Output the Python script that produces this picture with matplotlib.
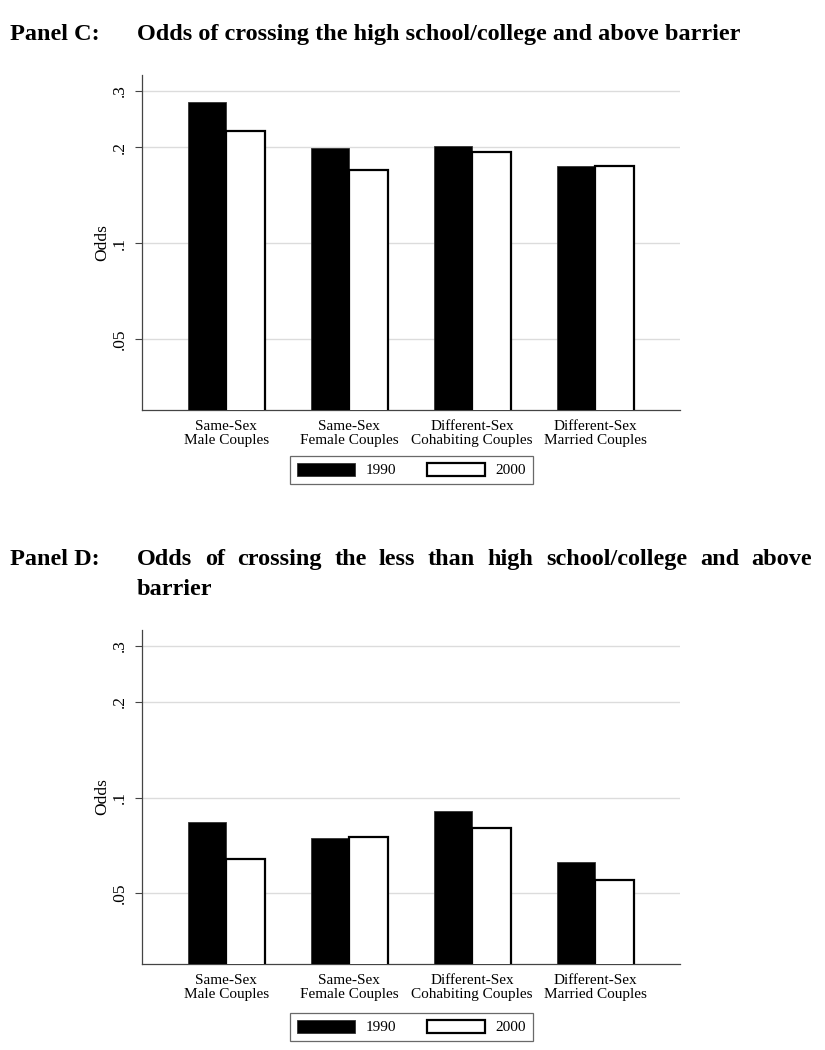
import matplotlib
matplotlib.use("Agg")
import matplotlib.pyplot as plt
import numpy as np

# ---- data ----
categories = ["Same-Sex\nMale Couples", "Same-Sex\nFemale Couples",
              "Different-Sex\nCohabiting Couples", "Different-Sex\nMarried Couples"]
years = ["1990", "2000"]
panel_c_1990 = [0.278, 0.199, 0.201, 0.175]
panel_c_2000 = [0.224, 0.170, 0.193, 0.174]
panel_d_1990 = [0.0841, 0.0749, 0.0908, 0.0630]
panel_d_2000 = [0.0642, 0.0752, 0.0801, 0.0550]
ytick_vals = [0.05, 0.1, 0.2, 0.3]
ytick_labels = [".05", ".1", ".2", ".3"]
title_c_label = "Panel C:"
title_c = "Odds of crossing the high school/college and above barrier"
title_d_label = "Panel D:"
title_d_line1 = "Odds of crossing the less than high school/college and above"
title_d_line2 = "barrier"

W, H = 825, 1050
fig = plt.figure(figsize=(W / 100, H / 100), dpi=100)
fig.patch.set_facecolor("white")

SERIF = ["Liberation Serif", "DejaVu Serif"]
plt.rcParams["font.family"] = SERIF


def px_axes(left, top, right, bottom):
    return [left / W, 1 - bottom / H, (right - left) / W, (bottom - top) / H]


def draw_panel(rect, v1990, v2000, legend_cy):
    ax = fig.add_axes(rect)
    x = np.arange(len(categories))
    bw = 0.313
    ax.set_yscale("log")
    ax.bar(x - bw / 2, v1990, width=bw, color="black", edgecolor="#333333",
           linewidth=0.6, zorder=3, label=years[0])
    ax.bar(x + bw / 2, v2000, width=bw, color="white", edgecolor="black",
           linewidth=1.6, zorder=3, label=years[1])
    ax.set_ylim(0.03, 0.3367)
    ax.set_xlim(-0.685, 3.69)
    ax.set_yticks(ytick_vals)
    ax.set_yticklabels(ytick_labels, rotation=90, va="center", fontsize=12.5)
    ax.yaxis.set_minor_locator(matplotlib.ticker.NullLocator())
    ax.yaxis.set_minor_formatter(matplotlib.ticker.NullFormatter())
    ax.tick_params(axis="y", length=5, width=0.8, color="#444444", pad=5)
    ax.set_xticks(x)
    ax.set_xticklabels(categories, fontsize=11, linespacing=1.12)
    ax.tick_params(axis="x", length=0, pad=7)
    ax.grid(axis="y", color="#dcdcdc", linewidth=1.0, zorder=0)
    ax.set_axisbelow(True)
    for s in ["top", "right"]:
        ax.spines[s].set_visible(False)
    for s in ["left", "bottom"]:
        ax.spines[s].set_color("#444444")
        ax.spines[s].set_linewidth(0.9)
    ax.set_ylabel("Odds", fontsize=12.5, labelpad=1)
    leg = ax.legend(loc="center", bbox_to_anchor=(411.5 / W, 1 - legend_cy / H),
                    bbox_transform=fig.transFigure, ncol=2, fontsize=11,
                    frameon=True, fancybox=False, handlelength=3.8,
                    handleheight=0.95, handletextpad=0.7, columnspacing=2.0,
                    borderpad=0.45, borderaxespad=0)
    leg.get_frame().set_edgecolor("#444444")
    leg.get_frame().set_linewidth(0.9)
    return ax


draw_panel(px_axes(142, 75, 680, 410), panel_c_1990, panel_c_2000, 470)
draw_panel(px_axes(142, 630, 680, 964), panel_d_1990, panel_d_2000, 1027)

tkw = dict(fontsize=17.5, fontweight="bold", family=SERIF, va="baseline")
fig.text(10 / W, 1 - 40 / H, title_c_label, ha="left", **tkw)
fig.text(137 / W, 1 - 40 / H, title_c, ha="left", **tkw)

fig.text(10 / W, 1 - 565 / H, title_d_label, ha="left", **tkw)
# justified first line
words = title_d_line1.split(" ")
renderer = fig.canvas.get_renderer()
x0, x1 = 137, 812
widths = []
for w in words:
    t = fig.text(0, 0, w, **tkw)
    widths.append(t.get_window_extent(renderer).width)
    t.remove()
gap = (x1 - x0 - sum(widths)) / (len(words) - 1)
xc = x0
for w, wd in zip(words, widths):
    fig.text(xc / W, 1 - 565 / H, w, ha="left", **tkw)
    xc += wd + gap
fig.text(137 / W, 1 - 595 / H, title_d_line2, ha="left", **tkw)

fig.savefig("out.png", dpi=100, facecolor="white")
